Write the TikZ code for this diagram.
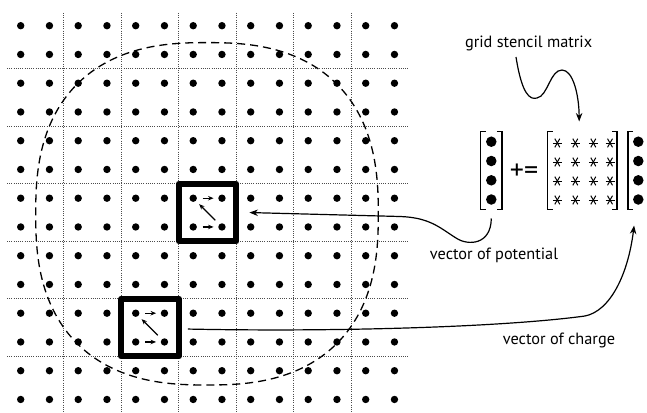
\documentclass[tikz,border=0pt]{standalone}
\usepackage{fontspec}
\setmainfont{PT Sans}
\usetikzlibrary{arrows.meta}
\begin{document}
\begin{tikzpicture}[x=1pt,y=-1pt,
  dot/.style={circle,fill=black,inner sep=0pt,minimum size=7.4pt},
  bigdot/.style={circle,fill=black,inner sep=0pt,minimum size=10.5pt},
  gridline/.style={black!70,line width=0.8pt,dash pattern=on 0.9pt off 1.3pt},
  cellbox/.style={draw,line width=6.3pt,line join=round,inner sep=0pt,minimum size=57.5pt},
  zarrow/.style={-{Stealth[length=5.5pt,width=4.5pt]},line width=1.1pt,shorten <=5.5pt,shorten >=4.5pt},
  callout/.style={-{Stealth[length=8.5pt,width=6.5pt]},line width=1.2pt},
  lbl/.style={font=\fontsize{16.3}{18}\selectfont,inner sep=0pt},
  brk/.style={line width=1.4pt},
  vecbox/.style={inner sep=0pt,minimum width=20.7pt,minimum height=77.6pt},
  region/.style={line width=1.3pt,dash pattern=on 8pt off 5pt},
  astk/.style={line width=1pt},
]
\useasboundingbox (0,0) rectangle (647,412);
% dotted grid lines
\foreach \k in {0,...,5} {
  \draw[gridline] ({20.7+28.75*(2*\k+1.5)},13) -- ({20.7+28.75*(2*\k+1.5)},412);
  \draw[gridline] (7,{25.7+28.75*(2*\k+1.5)}) -- (408,{25.7+28.75*(2*\k+1.5)});
}
% dots
\foreach \i in {0,...,13} \foreach \j in {0,...,13}
  \node[dot] (d-\i-\j) at ({20.7+28.75*\i},{25.7+28.75*\j}) {};
% dashed region
\draw[region] plot[domain=0:360,samples=240]
  ({207+171.3*cos(\x)*pow(abs(cos(\x))+0.0001,-0.2)},{213.8+171.2*sin(\x)*pow(abs(sin(\x))+0.0001,-0.2)}) -- cycle;
% bold cells
\node[cellbox] (s1) at (207.55,212.55) {};
\node[cellbox] (s2) at (150.05,327.55) {};
% Z-order arrows
\draw[zarrow] (d-6-7) -- (d-7-7);
\draw[zarrow] (d-7-7) -- (d-6-6);
\draw[zarrow] (d-6-6) -- (d-7-6);
\draw[zarrow] (d-4-11) -- (d-5-11);
\draw[zarrow] (d-5-11) -- (d-4-10);
\draw[zarrow] (d-4-10) -- (d-5-10);
% equation
\node[vecbox] (vpot) at (491.3,170.5) {};
\node[vecbox,minimum width=69pt] (mat) at (582.2,170.5) {};
\node[vecbox] (vchg) at (638.65,170.5) {};
\draw[brk] ([xshift=5pt]vpot.north west) -| (vpot.south west) -- ++(5,0);
\draw[brk] ([xshift=-5pt]vpot.north east) -| (vpot.south east) -- ++(-5,0);
\draw[brk] ([xshift=5pt]mat.north west) -| (mat.south west) -- ++(5,0);
\draw[brk] ([xshift=-5pt]mat.north east) -| (mat.south east) -- ++(-5,0);
\draw[brk] ([xshift=5pt]vchg.north west) -| (vchg.south west) -- ++(5,0);
\foreach \r [count=\c] in {141.7,161,180.3,199.5} {
  \node[bigdot] (p\c) at (491.3,\r) {};
  \node[bigdot] (q\c) at (638.3,\r) {};
}
\foreach \r in {143,162,181,200} \foreach \cx in {557.3,575.3,593.3,610} {
  \draw[astk] (\cx,\r) ++(-4.5,0) -- ++(9,0);
  \draw[astk] (\cx,\r) ++(-2.5,-4.3) -- ++(5,8.6);
  \draw[astk] (\cx,\r) ++(2.5,-4.3) -- ++(-5,8.6);
}
\node[font=\fontsize{28}{30}\selectfont,inner sep=0pt] (pe) at (524,172) {+=};
% labels
\node[lbl] (tgsm) at (528.6,43.3) {grid stencil matrix};
\node[lbl] (tpot) at (494,255) {vector of potential};
\node[lbl] (tchg) at (559,340) {vector of charge};
% callouts
\coordinate (gsmstart) at (516,57);
\coordinate (matin) at ([xshift=-3pt,yshift=10pt]mat.north);
\draw[callout] (gsmstart) .. controls (522,95) and (530,100) .. (537,98)
  .. controls (548,96) and (550,70) .. (562,70)
  .. controls (573,70) and (579,95) .. (matin);
\coordinate (potstart) at ([yshift=-9pt]vpot.south);
\coordinate (potend) at ([xshift=10pt]s1.east);
\draw[callout] (potstart) .. controls (491,245) and (468,246) .. (456,238)
  .. controls (440,228) and (430,217.5) .. (400,216.5) -- (potend);
\coordinate (chgstart) at ([xshift=6pt,yshift=-1.5pt]s2.east);
\coordinate (chgend) at ([xshift=6pt,yshift=-16pt]vchg.south west);
\draw[callout] (chgstart) .. controls (330,332) and (500,327.5) .. (585,316)
  .. controls (610,311) and (628,275) .. (chgend);
\end{tikzpicture}
\end{document}
